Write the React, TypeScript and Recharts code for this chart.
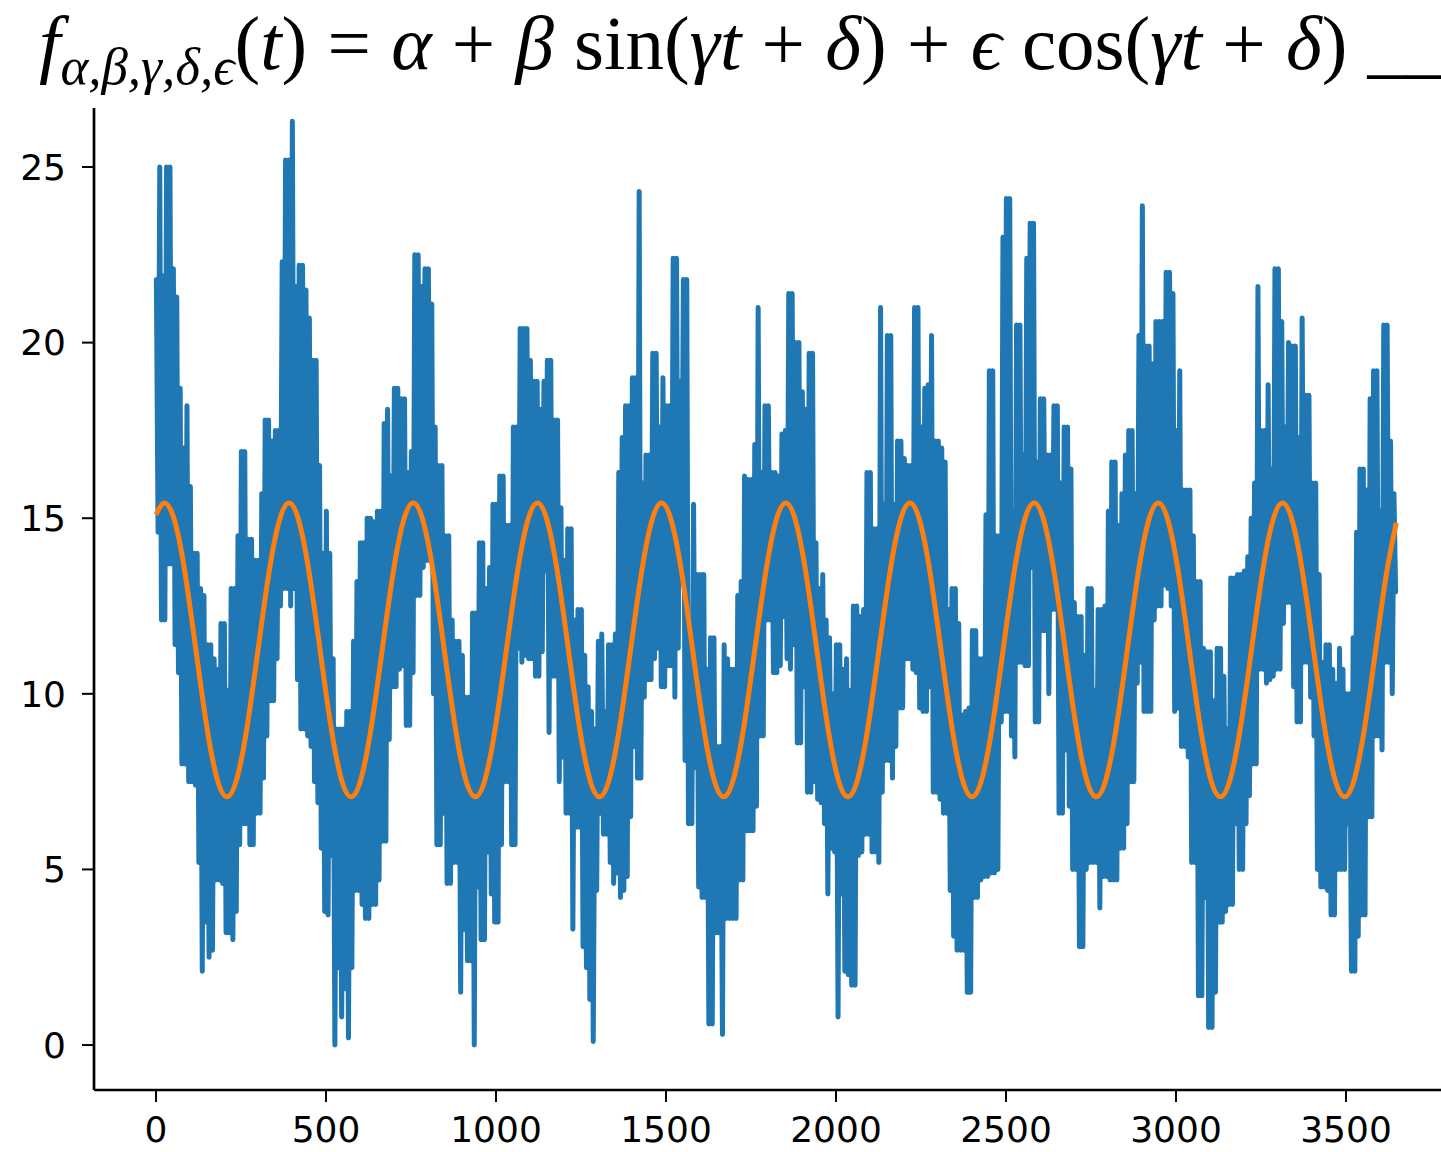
import React from 'react';
import { LineChart, Line, XAxis, YAxis } from 'recharts';

const bucketDays = 10;
const highs = [
  21.8, 25.0, 21.9, 25.0, 25.0, 22.1, 21.3, 18.7, 17.0, 18.2, 15.9, 14.0, 14.0, 13.0, 12.8, 11.4, 11.4, 11.0, 10.7, 12.0,
  12.0, 10.1, 13.0, 13.0, 14.5, 16.9, 16.9, 14.4, 14.4, 13.8, 13.8, 15.7, 17.8, 17.8, 17.2, 17.5, 17.5, 22.3, 25.2, 25.2,
  26.3, 21.6, 22.2, 22.2, 21.5,
  20.7, 19.5, 19.5, 16.5, 14.0, 15.2, 14.0, 11.0, 9.0, 9.0, 9.0, 9.5, 9.5, 11.5, 13.2, 14.3, 14.3, 15.0, 15.0, 14.9,
  15.2, 15.2, 17.7, 18.1, 16.2, 18.7, 18.7, 18.4, 18.4, 16.3, 16.9, 22.5, 22.5, 21.6, 22.1, 22.1, 21.1, 17.6, 16.5, 16.5,
  14.5, 14.5, 12.1, 11.5, 11.5, 11.1, 9.9,
  9.9, 12.3, 12.3, 14.3, 14.3, 13.0, 13.6, 15.4, 15.4, 16.2, 16.2, 14.8, 14.8, 17.6, 17.6, 20.4, 20.4, 20.4, 19.5, 18.9,
  18.9, 18.1, 18.9, 19.5, 19.5, 17.8, 17.8, 15.3, 13.8, 14.7, 14.7, 12.1, 12.4, 12.4, 11.1, 10.2, 9.5, 9.0, 11.5, 11.7,
  9.5, 11.4, 11.4, 11.7, 16.3, 17.3, 18.2,
  18.2, 19.0, 19.0, 24.3, 16.0, 16.8, 16.8, 19.7, 19.7, 17.6, 19.0, 18.2, 18.2, 22.4, 22.4, 18.9, 21.8, 21.8, 12.1, 15.4,
  13.4, 13.4, 13.4, 10.7, 11.6, 11.6, 8.5, 8.5, 11.4, 11.0, 10.7, 10.7, 12.8, 13.2, 16.2, 16.1, 16.1, 17.1, 21.0, 16.3,
  18.2, 18.2, 16.3, 16.3, 16.2, 17.4, 17.5,
  21.4, 21.4, 20.0, 20.0, 18.6, 18.1, 19.7, 19.7, 14.3, 13.0, 13.4, 12.1, 11.6, 10.0, 11.4, 11.4, 10.7, 11.0, 10.1, 12.5,
  12.5, 12.2, 12.4, 16.3, 16.3, 14.7, 14.7, 21.0, 15.4, 20.2, 20.2, 15.4, 17.2, 17.2, 16.7, 16.5, 16.5, 21.0, 21.0, 17.6,
  18.7, 18.8, 20.2, 17.2, 17.2, 17.0,
  16.6, 12.4, 13.0, 13.0, 12.0, 9.4, 9.5, 9.6, 11.8, 11.8, 11.0, 11.0, 15.1, 19.2, 19.2, 14.5, 14.5, 23.0, 24.1, 24.1,
  15.2, 20.5, 20.5, 16.8, 22.4, 23.4, 23.4, 16.6, 18.4, 18.4, 16.8, 16.8, 18.2, 18.2, 16.0, 17.6, 17.6, 16.4, 12.6, 12.2,
  12.2, 11.1, 13.0, 13.0, 10.1, 12.4, 12.4,
  12.5, 15.2, 16.6, 16.6, 14.8, 15.7, 16.8, 17.5, 17.5, 15.7, 20.2, 23.9, 19.9, 19.9, 19.4, 20.6, 20.6, 20.6, 22.0, 22.0,
  21.4, 17.5, 19.2, 15.8, 15.8, 15.8, 14.5, 13.2, 13.2, 11.3, 11.2, 11.2, 9.8, 11.3, 11.3, 10.5, 9.0, 13.3, 13.3, 13.4,
  13.4, 13.5, 13.9, 15.0, 16.0, 21.6, 17.5, 17.5,
  18.8, 16.4, 22.1, 22.1, 20.6, 17.6, 20.0, 19.9, 19.9, 17.3, 20.7, 18.5, 18.5, 16.0, 16.0, 13.4, 10.9, 11.4, 11.4, 10.7,
  10.3, 11.3, 10.7, 10.0, 10.0, 11.6, 14.6, 16.4, 16.4, 15.8, 18.4, 19.2, 19.2, 15.2, 20.5, 20.5, 17.2, 15.7,
];
const lows = [
  14.6, 12.1, 12.1, 13.7, 13.7, 11.4, 10.6, 8.0, 8.0, 7.5, 7.5, 7.4, 5.2, 2.1, 3.5, 2.5, 2.7, 4.7, 4.7, 4.6,
  3.2, 3.2, 3.0, 3.8, 5.7, 6.3, 6.3, 5.7, 5.7, 6.6, 6.6, 7.6, 8.8, 9.8, 9.8, 11.0, 12.5, 13.0, 13.0, 12.5,
  13.0, 10.4, 9.0, 9.0, 8.8,
  8.5, 7.5, 6.9, 5.6, 3.8, 3.7, 5.4, 0.0, 2.2, 0.8, 1.6, 0.2, 2.2, 4.4, 4.4, 4.0, 3.6, 3.6, 4.0, 4.0,
  4.7, 5.8, 5.8, 8.7, 10.2, 10.2, 10.7, 10.8, 9.1, 9.1, 10.6, 12.8, 12.8, 13.6, 13.8, 13.8, 10.0, 5.7, 5.7, 6.6,
  4.6, 4.6, 5.2, 5.2, 1.5, 3.3, 2.4,
  2.4, 0.0, 4.5, 3.0, 3.0, 5.5, 4.3, 3.5, 3.5, 5.7, 7.5, 7.5, 5.7, 5.7, 11.3, 10.9, 11.1, 11.0, 11.0, 10.5,
  10.5, 11.2, 13.5, 8.9, 10.5, 10.5, 7.5, 8.2, 6.6, 6.6, 3.3, 6.2, 6.2, 2.8, 2.2, 1.3, 0.1, 4.4, 6.6, 6.0,
  6.0, 5.2, 4.6, 4.9, 4.2, 4.4, 4.8,
  6.5, 8.5, 7.6, 7.6, 9.9, 10.4, 10.4, 11.0, 11.3, 10.2, 10.2, 10.8, 10.8, 9.9, 11.3, 13.2, 8.1, 6.3, 6.3, 7.9,
  4.5, 4.2, 4.2, 0.6, 0.6, 3.2, 3.2, 0.3, 3.6, 3.6, 3.6, 3.6, 4.7, 4.7, 6.1, 6.1, 6.1, 6.8, 8.8, 8.8,
  12.1, 12.1, 10.6, 10.6, 10.8, 12.2, 11.0,
  10.7, 11.4, 8.6, 8.6, 10.2, 7.2, 7.2, 7.5, 7.0, 6.9, 6.3, 4.3, 5.6, 5.5, 0.8, 4.3, 2.1, 2.0, 1.7, 1.7,
  5.4, 5.5, 6.0, 6.0, 5.5, 5.5, 5.2, 7.2, 8.1, 8.1, 7.6, 8.5, 9.6, 9.6, 11.0, 11.0, 10.7, 10.6, 9.6, 9.5,
  9.5, 10.2, 7.2, 7.2, 7.0, 6.6,
  6.6, 4.4, 3.1, 2.7, 2.7, 2.7, 1.5, 1.5, 4.2, 4.2, 4.7, 4.8, 4.8, 4.9, 4.9, 5.0, 9.2, 9.5, 9.5, 8.8,
  8.2, 10.9, 10.9, 10.8, 10.8, 13.6, 9.2, 9.2, 11.8, 11.8, 10.0, 12.4, 12.4, 6.6, 6.6, 8.4, 6.8, 5.0, 5.0, 2.8,
  2.8, 5.0, 5.2, 5.2, 5.2, 3.9, 4.8,
  4.8, 4.7, 4.7, 4.7, 5.6, 5.6, 6.3, 7.5, 7.5, 10.3, 10.9, 9.5, 9.5, 9.5, 12.1, 12.5, 12.5, 13.1, 13.0, 12.5,
  9.5, 9.6, 8.5, 8.5, 8.2, 5.2, 5.2, 1.4, 1.4, 4.2, 0.5, 0.5, 1.5, 3.5, 3.5, 3.8, 4.0, 4.0, 6.3, 5.0,
  5.0, 6.3, 7.1, 8.0, 8.0, 10.7, 10.7, 10.3,
  10.4, 10.5, 10.7, 10.7, 12.0, 12.6, 12.6, 10.2, 9.2, 9.2, 10.9, 10.9, 9.9, 8.8, 5.0, 4.5, 4.5, 4.4, 3.7, 3.7,
  5.0, 5.0, 5.0, 6.3, 2.1, 2.1, 3.1, 3.7, 3.7, 6.5, 6.5, 8.8, 8.8, 8.4, 10.9, 10.9, 10.0, 12.9,
];

// Fitted curve: value at day 0, then monthly samples starting at the first peak (day 26)
const fitFirstDay = 26;
const fitStepDays = 30.4375;
const fitValueDay0 = 15.1;
const fitValues = [
  15.43, 14.87, 13.34, 11.25, 9.16, 7.63, 7.07, 7.63, 9.16, 11.25, 13.34, 14.87,
  15.43, 14.87, 13.34, 11.25, 9.16, 7.63, 7.07, 7.63, 9.16, 11.25, 13.34, 14.87,
  15.43, 14.87, 13.34, 11.25, 9.16, 7.63, 7.07, 7.63, 9.16, 11.25, 13.34, 14.87,
  15.43, 14.87, 13.34, 11.25, 9.16, 7.63, 7.07, 7.63, 9.16, 11.25, 13.34, 14.87,
  15.43, 14.87, 13.34, 11.25, 9.16, 7.63, 7.07, 7.63, 9.16, 11.25, 13.34, 14.87,
  15.43, 14.87, 13.34, 11.25, 9.16, 7.63, 7.07, 7.63, 9.16, 11.25, 13.34, 14.87,
  15.43, 14.87, 13.34, 11.25, 9.16, 7.63, 7.07, 7.63, 9.16, 11.25, 13.34, 14.87,
  15.43, 14.87, 13.34, 11.25, 9.16, 7.63, 7.07, 7.63, 9.16, 11.25, 13.34, 14.87,
  15.43, 14.87, 13.34, 11.25, 9.16, 7.63, 7.07, 7.63, 9.16, 11.25, 13.34, 14.87,
  15.43, 14.87, 13.34, 11.25, 9.16, 7.63, 7.07, 7.63, 9.16, 11.25, 13.34, 14.87,
];

const xTicks = [0, 500, 1000, 1500, 2000, 2500, 3000, 3500];
const yTicks = [0, 5, 10, 15, 20, 25];

const observed: { t: number; v: number }[] = [];
highs.forEach((h, i) => {
  observed.push({ t: i * bucketDays + 1, v: h });
  observed.push({ t: i * bucketDays + 6, v: lows[i] });
});

const fitted: { t: number; v: number }[] = [{ t: 0, v: fitValueDay0 }];
fitValues.forEach((v, i) => fitted.push({ t: fitFirstDay + i * fitStepDays, v }));

const tickFont = { fontSize: 36, fontFamily: '"DejaVu Sans", sans-serif', fill: '#000' };

export default function App() {
  return (
    <div style={{ position: 'absolute', left: 0, top: 0, width: 1441, height: 1152, overflow: 'hidden', background: '#fff' }}>
      <LineChart width={1441} height={1152} margin={{ top: 108, right: 0, bottom: 0, left: 0 }}>
        <XAxis
          type="number"
          dataKey="t"
          domain={[-182.45, 3779.4]}
          allowDataOverflow
          ticks={xTicks}
          interval={0}
          height={62}
          tickSize={12}
          tickMargin={14}
          axisLine={{ stroke: '#000', strokeWidth: 2.7 }}
          tickLine={{ stroke: '#000', strokeWidth: 2 }}
          tick={tickFont}
        />
        <YAxis
          type="number"
          domain={[-1.28, 26.68]}
          allowDataOverflow
          ticks={yTicks}
          interval={0}
          width={94}
          tickSize={12}
          tickMargin={16}
          axisLine={{ stroke: '#000', strokeWidth: 2.7 }}
          tickLine={{ stroke: '#000', strokeWidth: 2 }}
          tick={tickFont}
        />
        <Line
          data={observed}
          dataKey="v"
          type="linear"
          stroke="#1f77b4"
          strokeWidth={5}
          strokeLinejoin="round"
          strokeLinecap="round"
          dot={false}
          activeDot={false}
          isAnimationActive={false}
        />
        <Line
          data={fitted}
          dataKey="v"
          type="natural"
          stroke="#ff7f0e"
          strokeWidth={5}
          dot={false}
          activeDot={false}
          isAnimationActive={false}
        />
      </LineChart>
      <svg width={1441} height={110} style={{ position: 'absolute', left: 0, top: 0 }}>
        <text x={39} y={69} fontFamily="'Liberation Serif','DejaVu Serif',serif" fontSize={77} fill="#000" wordSpacing={1} style={{ whiteSpace: 'pre' }}>
          <tspan fontStyle="italic">f</tspan>
          <tspan fontStyle="italic" fontSize={53} dy={15}>α,β,γ,δ,ϵ</tspan>
          <tspan dy={-15}>(</tspan>
          <tspan fontStyle="italic">t</tspan>
          <tspan>{') = '}</tspan>
          <tspan fontStyle="italic">α</tspan>
          <tspan>{' + '}</tspan>
          <tspan fontStyle="italic">β</tspan>
          <tspan>{' sin('}</tspan>
          <tspan fontStyle="italic">γt</tspan>
          <tspan>{' + '}</tspan>
          <tspan fontStyle="italic">δ</tspan>
          <tspan>{') + '}</tspan>
          <tspan fontStyle="italic">ϵ</tspan>
          <tspan>{' cos('}</tspan>
          <tspan fontStyle="italic">γt</tspan>
          <tspan>{' + '}</tspan>
          <tspan fontStyle="italic">δ</tspan>
          <tspan>{') ___'}</tspan>
        </text>
      </svg>
    </div>
  );
}
